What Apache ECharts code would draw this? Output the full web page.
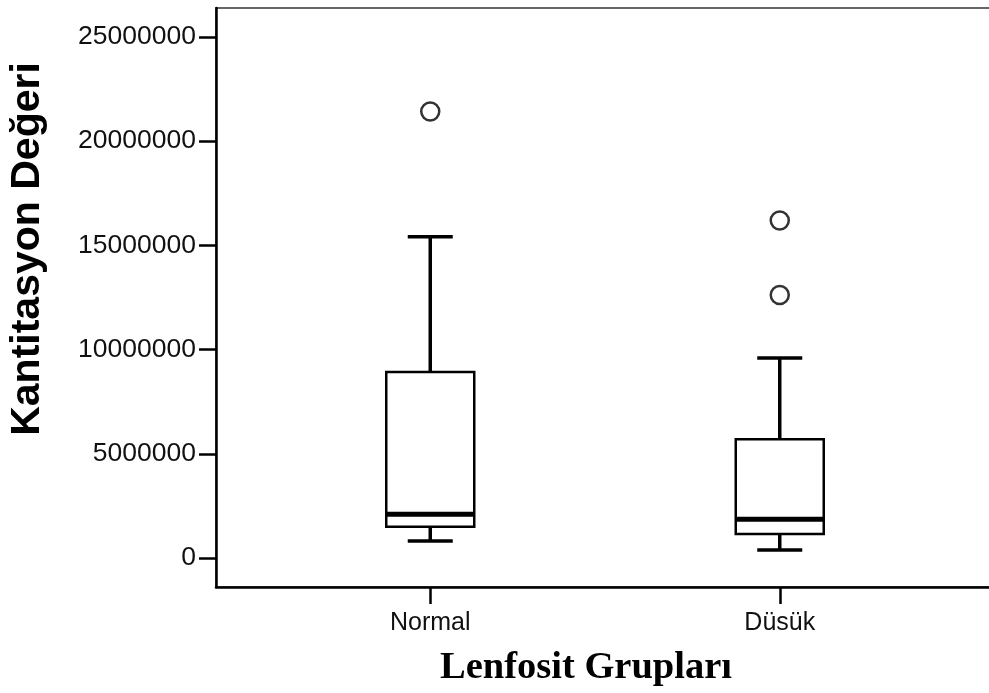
<!DOCTYPE html>
<html>
<head>
<meta charset="utf-8">
<script src="https://cdn.jsdelivr.net/npm/echarts@6/dist/echarts.min.js"></script>
<style>html,body{margin:0;padding:0;background:#fff}#c{width:989px;height:693px}</style>
</head>
<body>
<div id="c"></div>
<script>
const categories = ['Normal', 'Düsük'];
const whiskerLow = [820000, 380000];
const q1 = [1500000, 1150000];
const medians = [2100000, 1860000];
const q3 = [8930000, 5700000];
const whiskerHigh = [15420000, 9600000];
const outlierGroup = [0, 1, 1];
const outlierValues = [21420000, 16190000, 12620000];
const yTicks = [0, 5000000, 10000000, 15000000, 20000000, 25000000];

const boxData = categories.map((c, i) => [i, whiskerLow[i], q1[i], medians[i], q3[i], whiskerHigh[i]]);
const outlierData = outlierGroup.map((g, i) => [g, outlierValues[i]]);

const BOX_W = 88, CAP_W = 45;

const chart = echarts.init(document.getElementById('c'));
chart.setOption({
  animation: false,
  backgroundColor: '#fff',
  grid: { left: 216, top: 8, width: 778, height: 579, outerBoundsMode: 'none', containLabel: false, show: true, borderColor: '#666', borderWidth: 2, backgroundColor: 'transparent' },
  xAxis: {
    type: 'value', min: -0.613, max: 1.613,
    splitLine: { show: false },
    axisLine: { show: true, onZero: false, lineStyle: { color: '#000', width: 2.5 } },
    axisTick: { show: true, customValues: [0, 1], length: 17, lineStyle: { color: '#000', width: 2.5 } },
    axisLabel: { customValues: [0, 1], margin: 24, formatter: v => categories[Math.round(v)], fontFamily: 'Liberation Sans', fontSize: 25, color: '#111' }
  },
  yAxis: {
    type: 'value', min: -1390000, max: 26390000,
    splitLine: { show: false },
    axisLine: { show: true, onZero: false, lineStyle: { color: '#000', width: 2.5 } },
    axisTick: { show: true, customValues: yTicks, length: 17, lineStyle: { color: '#000', width: 2.5 } },
    axisLabel: { customValues: yTicks, margin: 20, formatter: v => String(v), fontFamily: 'Liberation Sans', fontSize: 26.5, color: '#111' }
  },
  graphic: [
    { type: 'text', x: 28, y: 249, rotation: Math.PI / 2,
      style: { text: 'Kantitasyon Değeri', font: 'bold 41px "Liberation Sans"', fill: '#000', textAlign: 'center', textVerticalAlign: 'middle' } },
    { type: 'text', x: 586, y: 668,
      style: { text: 'Lenfosit Grupları', font: 'bold 38.5px "Liberation Serif"', fill: '#000', textAlign: 'center', textVerticalAlign: 'middle' } }
  ],
  series: [
    {
      type: 'custom',
      data: boxData,
      renderItem: function (params, api) {
        const x = api.value(0);
        const pLow = api.coord([x, api.value(1)]);
        const pQ1 = api.coord([x, api.value(2)]);
        const pMed = api.coord([x, api.value(3)]);
        const pQ3 = api.coord([x, api.value(4)]);
        const pHigh = api.coord([x, api.value(5)]);
        const cx = pLow[0];
        const hb = BOX_W / 2, hc = CAP_W / 2;
        const wStyle = { stroke: '#000', lineWidth: 3.5, fill: null };
        return {
          type: 'group',
          children: [
            { type: 'line', shape: { x1: cx, y1: pQ3[1], x2: cx, y2: pHigh[1] }, style: wStyle },
            { type: 'line', shape: { x1: cx - hc, y1: pHigh[1], x2: cx + hc, y2: pHigh[1] }, style: wStyle },
            { type: 'line', shape: { x1: cx, y1: pQ1[1], x2: cx, y2: pLow[1] }, style: wStyle },
            { type: 'line', shape: { x1: cx - hc, y1: pLow[1], x2: cx + hc, y2: pLow[1] }, style: wStyle },
            { type: 'rect', shape: { x: cx - hb, y: pQ3[1], width: BOX_W, height: pQ1[1] - pQ3[1] }, style: { fill: '#fff', stroke: '#000', lineWidth: 2.5 } },
            { type: 'line', shape: { x1: cx - hb, y1: pMed[1], x2: cx + hb, y2: pMed[1] }, style: { stroke: '#000', lineWidth: 5 } }
          ]
        };
      }
    },
    {
      type: 'scatter',
      data: outlierData,
      symbol: 'circle',
      symbolSize: 18,
      itemStyle: { color: '#fff', borderColor: '#333', borderWidth: 2.5, opacity: 1 }
    }
  ]
});
</script>
</body>
</html>
